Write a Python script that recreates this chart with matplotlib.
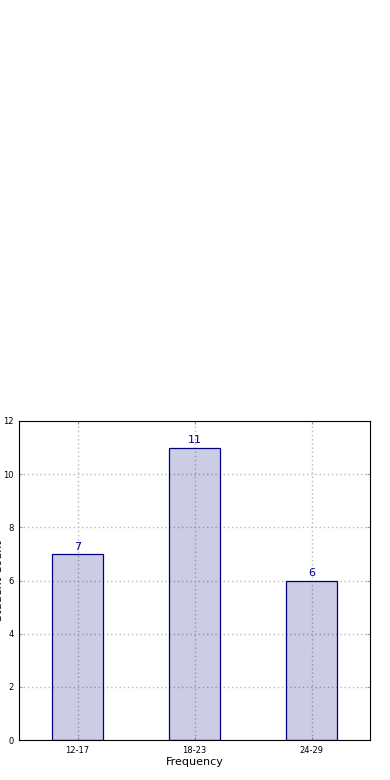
import matplotlib
matplotlib.use("Agg")
import matplotlib.pyplot as plt

categories = ["12-17", "18-23", "24-29"]
values = [7, 11, 6]
yticks = [0, 2, 4, 6, 8, 10, 12]

fig = plt.figure(figsize=(3.9, 7.8), dpi=100)
ax = fig.add_axes([19/390, 1-740/780, 351/390, 319/780])

x = list(range(len(categories)))
ax.bar(x, values, width=0.44, color=(0, 0, 0.5, 0.2), edgecolor="navy", linewidth=0.9, zorder=2)
for xi, v in zip(x, values):
    ax.text(xi, v + 0.08, str(v), ha="center", va="bottom", color="navy", fontsize=8)

ax.set_xlim(-0.5, 2.5)
ax.set_ylim(0, 12)
ax.set_xticks(x)
ax.set_xticklabels(categories, fontsize=6)
ax.set_yticks(yticks)
ax.set_yticklabels([str(t) for t in yticks], fontsize=6)
ax.tick_params(direction="in", top=True, right=True, length=2, width=0.6, pad=4, color="#888888")
ax.grid(True, linestyle=(0, (1, 2)), color="#b8b8b8", linewidth=1, zorder=3)
ax.set_xlabel("Frequency", fontsize=8, labelpad=2)
ax.set_ylabel("Student Count", fontsize=8)
ax.yaxis.set_label_coords(-0.042, 0.5)
for s in ax.spines.values():
    s.set_linewidth(0.8)

fig.savefig("out.png", dpi=100)
